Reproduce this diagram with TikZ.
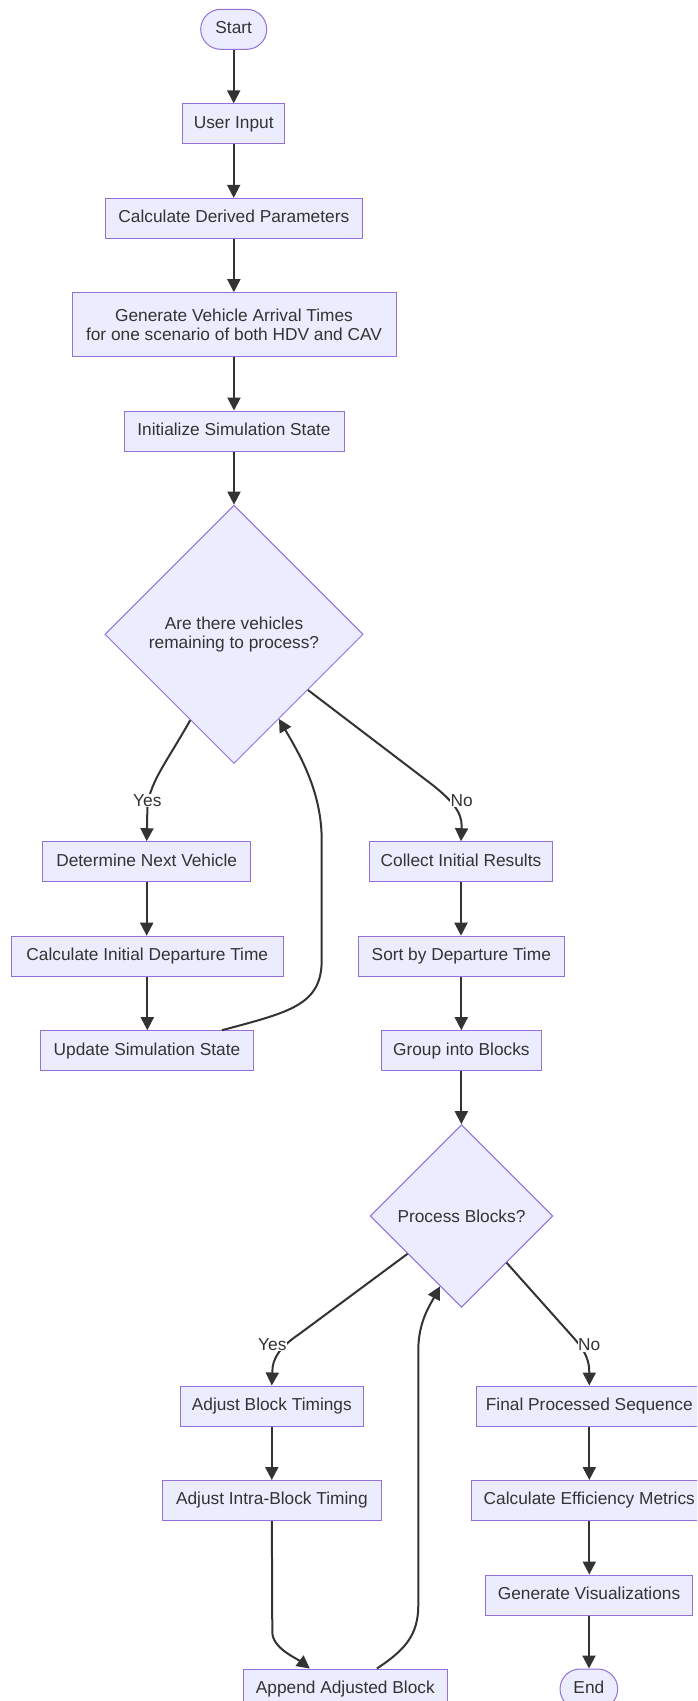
\documentclass[tikz,border=0pt]{standalone}
\usepackage{fontspec}
\setmainfont{Liberation Sans}
\usetikzlibrary{shapes.geometric,arrows.meta,calc}
\definecolor{nodefill}{HTML}{ECECFF}
\definecolor{nodeline}{HTML}{9370DB}
\definecolor{edgeline}{HTML}{333333}
\definecolor{txtcol}{HTML}{333333}
\tikzset{
  base/.style={draw=nodeline, fill=nodefill, line width=1pt, text=txtcol,
    font={\fontsize{17.3}{19.5}\selectfont}, inner sep=0pt},
  proc/.style={base, rectangle, minimum height=40pt, text height=12.4pt, text depth=3.6pt},
  procmulti/.style={base, rectangle, align=center},
  term/.style={base, rectangle, rounded corners=20pt, minimum height=40pt,
    text height=12.4pt, text depth=3.6pt},
  decision/.style={base, diamond, align=center},
  flow/.style={draw=edgeline, line width=2pt, -{Triangle[length=13pt,width=13pt]}},
  lbl/.style={fill=white, text=txtcol, font={\fontsize{17.3}{19.5}\selectfont}, inner sep=0.6pt},
}
\begin{document}
\begin{tikzpicture}[x=1pt,y=-1pt]
\useasboundingbox (0,0) rectangle (697,1701);
\clip (0,0) rectangle (697,1701);
\fill[white] (0,0) rectangle (697,1701);

% nodes
\node[term, minimum width=66pt] (start) at (233.7,29.3) {Start};
\node[proc, minimum width=102pt] (user) at (233.7,123.85) {User Input};
\node[proc, minimum width=256.3pt] (derive) at (233.85,218.35) {Calculate Derived Parameters};
\node[procmulti, minimum width=324pt, minimum height=64pt] (gen) at (234,324.7)
  {Generate Vehicle Arrival Times\\for one scenario of both HDV and CAV};
\node[proc, minimum width=220pt] (init) at (234,431) {Initialize Simulation State};
\node[decision, minimum width=258.3pt, minimum height=258.3pt] (d1) at (234,634.3)
  {Are there vehicles\\remaining to process?};
\node[proc, minimum width=208pt] (next) at (146.7,861.7) {Determine Next Vehicle};
\node[proc, minimum width=272pt] (dep) at (147.3,956.2) {Calculate Initial Departure Time};
\node[proc, minimum width=212.6pt] (upd) at (147,1050.7) {Update Simulation State};
\node[proc, minimum width=183.4pt] (coll) at (461,861.7) {Collect Initial Results};
\node[proc, minimum width=206pt] (sort) at (461.3,956.2) {Sort by Departure Time};
\node[proc, minimum width=160.7pt] (grp) at (461.35,1050.7) {Group into Blocks};
\node[decision, minimum width=182.7pt, minimum height=182.7pt] (d2) at (461.5,1216) {Process Blocks?};
\node[proc, minimum width=183pt] (adjb) at (271.8,1406) {Adjust Block Timings};
\node[proc, minimum width=218.3pt] (intra) at (271.85,1500.5) {Adjust Intra-Block Timing};
\node[proc, minimum width=204pt] (app) at (345.3,1689) {Append Adjusted Block};
\node[proc, minimum width=226.6pt] (fin) at (589.3,1406) {Final Processed Sequence};
\node[proc, minimum width=236.6pt] (eff) at (589.3,1500.5) {Calculate Efficiency Metrics};
\node[proc, minimum width=206.6pt] (viz) at (589,1595) {Generate Visualizations};
\node[term, minimum width=57.7pt] (end) at (588.85,1689) {End};

% straight connectors
\draw[flow] (start.south) -- (start.south |- user.north);
\draw[flow] (user.south) -- (user.south |- derive.north);
\draw[flow] (derive.south) -- (derive.south |- gen.north);
\draw[flow] (gen.south) -- (gen.south |- init.north);
\draw[flow] (init.south) -- (init.south |- d1.north);
\draw[flow] (next.south) -- (next.south |- dep.north);
\draw[flow] (dep.south) -- (dep.south |- upd.north);
\draw[flow] (coll.south) -- (coll.south |- sort.north);
\draw[flow] (sort.south) -- (sort.south |- grp.north);
\draw[flow] (grp.south) -- (grp.south |- d2.north);
\draw[flow] (adjb.south) -- (adjb.south |- intra.north);
\draw[flow] (fin.south) -- (fin.south |- eff.north);
\draw[flow] (eff.south) -- (eff.south |- viz.north);
\draw[flow] (viz.south) -- (viz.south |- end.north);

% curved connectors
\draw[flow] (d1.-117) .. controls (165,765) and (147.3,785) .. (147.3,812) -- (next.north);
\draw[flow] (d1.-37) -- (430,783) .. controls (452,800) and (461.7,812) .. (461.7,826) -- (coll.north);
\draw[flow] ($(upd.north west)!0.851!(upd.north east)$)
  .. controls (290,1012) and (321.7,1005) .. (321.7,960) -- (321.7,840)
  .. controls (321.7,790) and (298,752) .. (d1.-62);
\draw[flow] (d2.-145) -- (300,1333.5) .. controls (280,1347) and (272.3,1358) .. (272.3,1372) -- (adjb.north);
\draw[flow] (d2.-46) -- (572,1336) .. controls (583,1348) and (589.3,1358) .. (589.3,1372) -- (fin.north);
\draw[flow] (intra.south) -- (272.3,1632) .. controls (272.3,1648) and (296,1658) .. ($(app.north west)!0.327!(app.north east)$);
\draw[flow] ($(app.north west)!0.654!(app.north east)$) .. controls (405,1650) and (418.3,1635) .. (418.3,1605)
  -- (418.3,1350) .. controls (418.3,1322) and (430,1305) .. (d2.-107);

% labels
\node[lbl] (yes1) at (147.3,800.7) {Yes};
\node[lbl] (no1) at (461.7,800.7) {No};
\node[lbl] (yes2) at (272.3,1344.3) {Yes};
\node[lbl] (no2) at (589.3,1345) {No};
\end{tikzpicture}
\end{document}
